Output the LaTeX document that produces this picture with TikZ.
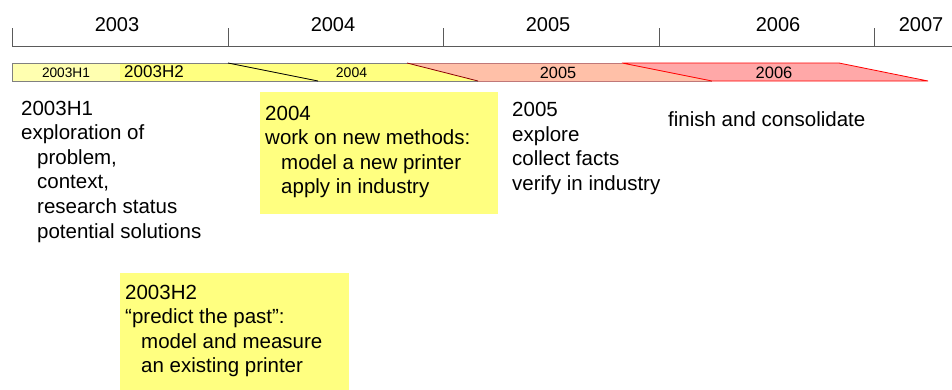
\documentclass[tikz,border=0pt]{standalone}
\usepackage{fontspec}
\setmainfont{Liberation Sans}
\definecolor{axisgray}{RGB}{90,90,90}
\definecolor{barborder}{RGB}{128,128,128}
\definecolor{lightyel}{RGB}{255,255,176}
\definecolor{yel}{RGB}{255,255,128}
\definecolor{salmon}{RGB}{255,192,168}
\definecolor{pinkred}{RGB}{255,168,168}
\definecolor{darkred}{RGB}{140,0,0}
\definecolor{salmonborder}{RGB}{192,120,120}
\newcommand{\ind}{\hspace*{16pt}}
\begin{document}
\begin{tikzpicture}[x=1pt,y=-1pt,
  yearlbl/.style={font=\fontsize{20}{24}\selectfont, anchor=base, inner sep=0},
  barlbl/.style={anchor=base, inner sep=0},
  txt/.style={font=\fontsize{20.5}{24.6}\selectfont, anchor=base west, inner sep=0},
  notebox/.style={fill=yel, draw=none, anchor=north west, inner sep=0},
  axisline/.style={draw=axisgray, line width=1pt},
  ]
\useasboundingbox (0,0) rectangle (952,389);
% axis
\coordinate (a0) at (12,46);
\coordinate (aend) at (952,46);
\draw[axisline] (a0) -- (aend);
\foreach \x/\n in {12/t0,228/t1,443/t2,659/t3,874/t4}{
  \coordinate (\n) at (\x,28);
  \draw[axisline] (\n) -- (\x,46);
}
\node[yearlbl] (y2003) at (117,31) {2003};
\node[yearlbl] (y2004) at (333,31) {2004};
\node[yearlbl] (y2005) at (548,31) {2005};
\node[yearlbl] (y2006) at (778,31) {2006};
\node[yearlbl] (y2007) at (921,31) {2007};
% bar
\fill[lightyel] (12,63) rectangle (120,81);
\draw[barborder, line width=0.8pt] (12,63) rectangle (120,81);
\fill[yel] (120,63) -- (228,63) -- (318,81) -- (120,81) -- cycle;
\fill[yel] (228,63) -- (407,63) -- (478,81) -- (318,81) -- cycle;
\draw[barborder, line width=0.8pt] (120,63) -- (407,63);
\draw[barborder, line width=0.8pt] (120,81) -- (478,81);
\draw[black, line width=0.8pt] (228,63) -- (318,81);
\fill[salmon] (407,63) -- (622,63) -- (712,81) -- (478,81) -- cycle;
\draw[salmonborder, line width=0.8pt] (407,63) -- (622,63);
\draw[salmonborder, line width=0.8pt] (478,81) -- (712,81);
\draw[darkred, line width=0.8pt] (407,63) -- (478,81);
\fill[pinkred] (622,63) -- (839,63) -- (928,81) -- (712,81) -- cycle;
\draw[red, line width=0.8pt] (622,63) -- (839,63) -- (928,81) -- (712,81) -- cycle;
\node[barlbl, font=\fontsize{13.7}{16}\selectfont] (bh1) at (66,77.8) {2003H1};
\node[barlbl, anchor=base west, font=\fontsize{17}{20}\selectfont] (bh2) at (124,77.6) {2003H2};
\node[barlbl, font=\fontsize{14}{17}\selectfont] (b2004) at (351.5,77.8) {2004};
\node[barlbl, font=\fontsize{16.3}{19}\selectfont] (b2005) at (558,78.5) {2005};
\node[barlbl, font=\fontsize{16.5}{19}\selectfont] (b2006) at (774,78.5) {2006};
% note boxes
\node[notebox, minimum width=238, minimum height=122] (box2004) at (260,92) {};
\node[notebox, minimum width=229, minimum height=117] (box2003h2) at (120,273) {};
% texts
\node[txt] (t2003h1) at (21,115) {\vtop{\hbox{2003H1}\hbox{exploration of}\hbox{\ind problem,}\hbox{\ind context,}\hbox{\ind research status}\hbox{\ind potential solutions}}};
\node[txt] (t2004) at (265,120) {\vtop{\hbox{2004}\hbox{work on new methods:}\hbox{\ind model a new printer}\hbox{\ind apply in industry}}};
\node[txt] (t2005) at (512,116.5) {\vtop{\hbox{2005}\hbox{explore}\hbox{collect facts}\hbox{verify in industry}}};
\node[txt] (t2006) at (668,126.7) {finish and consolidate};
\node[txt] (t2003h2) at (125,299) {\vtop{\hbox{2003H2}\hbox{“predict the past”:}\hbox{\ind model and measure}\hbox{\ind an existing printer}}};
\end{tikzpicture}
\end{document}
